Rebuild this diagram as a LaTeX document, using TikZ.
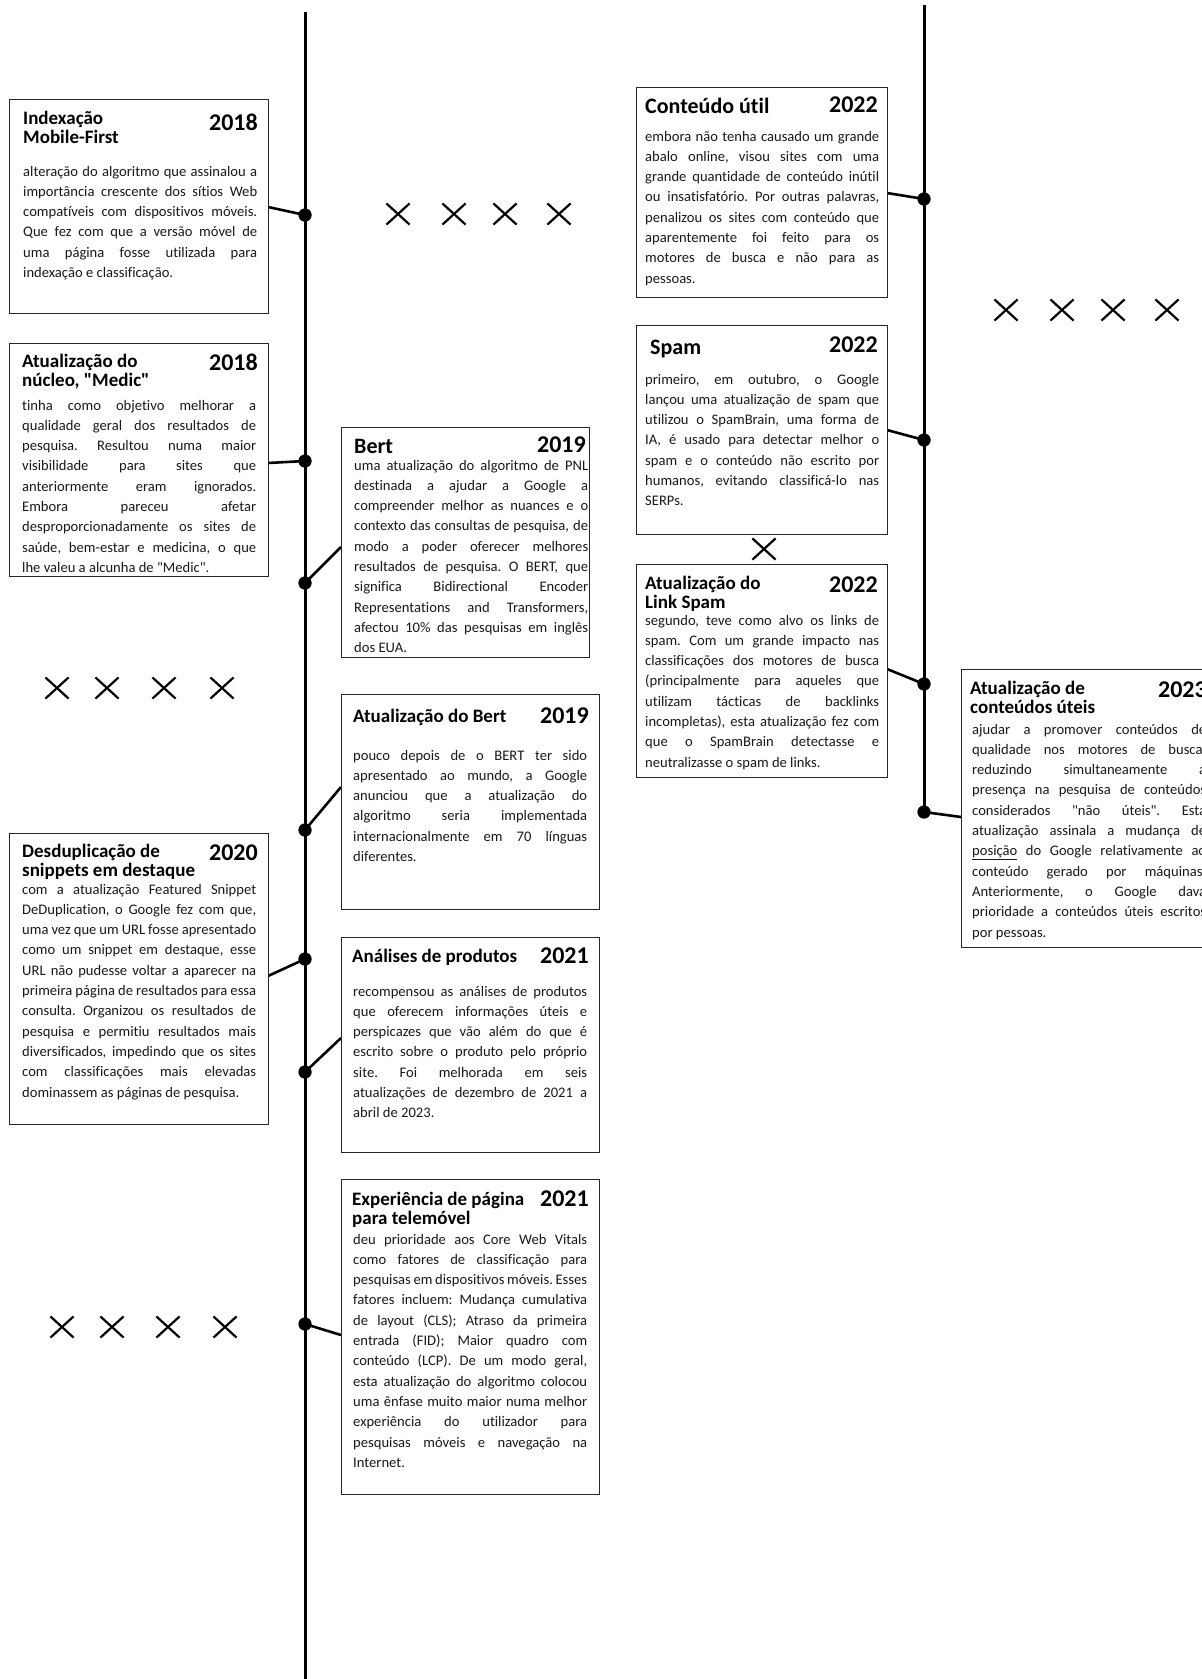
\documentclass[tikz,border=0pt]{standalone}
\usepackage{fontspec}
\setmainfont{Carlito}[Ligatures={TeXOff,NoCommon}]
\usetikzlibrary{shapes.misc}
\frenchspacing
\newcommand\jl[1]{\hbox to 234pt{#1}}
\newcommand\lastl[1]{\hbox{#1}}
\tikzset{
 evbox/.style={draw=black!85, line width=1.1pt, fill=white, inner sep=0pt, anchor=north west},
 ttl/.style={font=\bfseries\fontsize{19}{19.5}\selectfont, inner sep=0pt, anchor=base west},
 bigttl/.style={font=\bfseries\fontsize{22}{24}\selectfont, inner sep=0pt, anchor=base west},
 yr/.style={font=\bfseries\fontsize{24}{26}\selectfont, inner sep=0pt, anchor=base east},
 body/.style={font=\fontsize{14.6}{20.3}\selectfont\frenchspacing, inner sep=0pt, anchor=base west, text=black!90},
 dot/.style={circle, fill=black, inner sep=0pt, minimum size=13pt},
 tline/.style={line width=3pt},
 conn/.style={line width=2.6pt},
 xmark/.style={cross out, draw=black, line width=2.2pt, minimum width=21pt, minimum height=19pt, inner sep=0pt},
}
\begin{document}
\begin{tikzpicture}[x=1pt,y=-1pt]
\useasboundingbox (0,0) rectangle (1202,1679);
% timelines
\coordinate (Ltop) at (305,12);
\coordinate (Lbot) at (305,1679);
\coordinate (Rtop) at (924,5);
\draw[tline] (Ltop) -- (Lbot);
% dots
\node[dot] (dA) at (305,215) {};
\node[dot] (dB) at (305,461) {};
\node[dot] (dC) at (305,583) {};
\node[dot] (dD) at (305,830) {};
\node[dot] (dE) at (305,959) {};
\node[dot] (dF) at (305,1072) {};
\node[dot] (dG) at (305,1324) {};
\node[dot] (dH) at (924,199) {};
\node[dot] (dI) at (924,440) {};
\node[dot] (dJ) at (924,684) {};
\node[dot] (dK) at (924,812) {};
\draw[tline] (Rtop) -- (dK.center);
% attachment points
\coordinate (aA) at (268,207);
\coordinate (aB) at (268,463);
\coordinate (aC) at (341,547);
\coordinate (aD) at (341,787);
\coordinate (aE) at (268,976);
\coordinate (aF) at (341,1038);
\coordinate (aG) at (341,1335);
\coordinate (aH) at (887,193);
\coordinate (aI) at (887,430);
\coordinate (aJ) at (887,669);
\coordinate (aK) at (961,817);
\foreach \p in {A,B,C,D,E,F,G,H,I,J,K} {\draw[conn] (a\p) -- (d\p.center);}
% boxes
\node[evbox, minimum width=259pt, minimum height=214pt] (bA) at (9,99) {};
\node[evbox, minimum width=259pt, minimum height=233pt] (bB) at (9,343) {};
\node[evbox, minimum width=248pt, minimum height=230pt] (bC) at (341,427) {};
\node[evbox, minimum width=258pt, minimum height=215pt] (bD) at (341,694) {};
\node[evbox, minimum width=259pt, minimum height=291pt] (bE) at (9,833) {};
\node[evbox, minimum width=258pt, minimum height=215pt] (bF) at (341,937) {};
\node[evbox, minimum width=258pt, minimum height=315pt] (bG) at (341,1179) {};
\node[evbox, minimum width=251pt, minimum height=210pt] (bH) at (636,87) {};
\node[evbox, minimum width=251pt, minimum height=209pt] (bI) at (636,325) {};
\node[evbox, minimum width=251pt, minimum height=213pt] (bJ) at (636,564) {};
\node[evbox, minimum width=251pt, minimum height=278pt] (bK) at (961,669) {};
% dots on top
\foreach \p in {A,B,C,D,E,F,G,H,I,J,K} {\fill (d\p) circle (6.5pt);}
% Box A
\node[ttl] (tA) at (23,124) {\vtop{\hbox{Indexação}\hbox{Mobile-First}}};
\node[yr] (yA) at (258,130) {2018};
\node[body] (xA) at (23,176) {\vtop{%
\jl{alteração do algoritmo que assinalou a}
\jl{importância crescente dos sítios Web}
\jl{compatíveis com dispositivos móveis.}
\jl{Que fez com que a versão móvel de}
\jl{uma página fosse utilizada para}
\lastl{indexação e classificação.}}};
% Box B
\node[ttl] (tB) at (22,367) {\vtop{\hbox{Atualização do}\hbox{núcleo, "Medic"}}};
\node[yr] (yB) at (258,370) {2018};
\node[body] (xB) at (22,410) {\vtop{%
\jl{tinha como objetivo melhorar a}
\jl{qualidade geral dos resultados de}
\jl{pesquisa. Resultou numa maior}
\jl{visibilidade para sites que}
\jl{anteriormente eram ignorados.}
\jl{Embora pareceu afetar}
\jl{desproporcionadamente os sites de}
\jl{saúde, bem-estar e medicina, o que}
\lastl{lhe valeu a alcunha de "Medic".}}};
% Box C
\node[bigttl] (tC) at (354,453) {Bert};
\node[yr] (yC) at (586,452) {2019};
\node[body] (xC) at (354,470) {\vtop{%
\jl{uma atualização do algoritmo de PNL}
\jl{destinada a ajudar a Google a}
\jl{compreender melhor as nuances e o}
\jl{contexto das consultas de pesquisa, de}
\jl{modo a poder oferecer melhores}
\jl{resultados de pesquisa. O BERT, que}
\jl{significa Bidirectional Encoder}
\jl{Representations and Transformers,}
\jl{afectou 10\% das pesquisas em inglês}
\lastl{dos EUA.}}};
% Box D
\node[ttl] (tD) at (353,722) {Atualização do Bert};
\node[yr] (yD) at (589,723) {2019};
\node[body] (xD) at (353,760) {\vtop{%
\jl{pouco depois de o BERT ter sido}
\jl{apresentado ao mundo, a Google}
\jl{anunciou que a atualização do}
\jl{algoritmo seria implementada}
\jl{internacionalmente em 70 línguas}
\lastl{diferentes.}}};
% Box E
\node[ttl] (tE) at (22,857) {\vtop{\hbox{Desduplicação de}\hbox{snippets em destaque}}};
\node[yr] (yE) at (258,860) {2020};
\node[body] (xE) at (22,894) {\vtop{%
\jl{com a atualização Featured Snippet}
\jl{DeDuplication, o Google fez com que,}
\jl{uma vez que um URL fosse apresentado}
\jl{como um snippet em destaque, esse}
\jl{URL não pudesse voltar a aparecer na}
\jl{primeira página de resultados para essa}
\jl{consulta. Organizou os resultados de}
\jl{pesquisa e permitiu resultados mais}
\jl{diversificados, impedindo que os sites}
\jl{com classificações mais elevadas}
\lastl{dominassem as páginas de pesquisa.}}};
% Box F
\node[ttl] (tF) at (352,962) {Análises de produtos};
\node[yr] (yF) at (589,963) {2021};
\node[body] (xF) at (353,996) {\vtop{%
\jl{recompensou as análises de produtos}
\jl{que oferecem informações úteis e}
\jl{perspicazes que vão além do que é}
\jl{escrito sobre o produto pelo próprio}
\jl{site. Foi melhorada em seis}
\jl{atualizações de dezembro de 2021 a}
\lastl{abril de 2023.}}};
% Box G
\node[ttl] (tG) at (352,1205) {\vtop{\hbox{Experiência de página}\hbox{para telemóvel}}};
\node[yr] (yG) at (589,1206) {2021};
\node[body] (xG) at (353,1244) {\vtop{%
\jl{deu prioridade aos Core Web Vitals}
\jl{como fatores de classificação para}
\jl{pesquisas em dispositivos móveis. Esses}
\jl{fatores incluem: Mudança cumulativa}
\jl{de layout (CLS); Atraso da primeira}
\jl{entrada (FID); Maior quadro com}
\jl{conteúdo (LCP). De um modo geral,}
\jl{esta atualização do algoritmo colocou}
\jl{uma ênfase muito maior numa melhor}
\jl{experiência do utilizador para}
\jl{pesquisas móveis e navegação na}
\lastl{Internet.}}};
% Box H
\node[bigttl] (tH) at (645,113) {Conteúdo útil};
\node[yr] (yH) at (878,112) {2022};
\node[body] (xH) at (645,141) {\vtop{%
\jl{embora não tenha causado um grande}
\jl{abalo online, visou sites com uma}
\jl{grande quantidade de conteúdo inútil}
\jl{ou insatisfatório. Por outras palavras,}
\jl{penalizou os sites com conteúdo que}
\jl{aparentemente foi feito para os}
\jl{motores de busca e não para as}
\lastl{pessoas.}}};
% Box I
\node[bigttl] (tI) at (650,354) {Spam};
\node[yr] (yI) at (878,352) {2022};
\node[body] (xI) at (645,384) {\vtop{%
\jl{primeiro, em outubro, o Google}
\jl{lançou uma atualização de spam que}
\jl{utilizou o SpamBrain, uma forma de}
\jl{IA, é usado para detectar melhor o}
\jl{spam e o conteúdo não escrito por}
\jl{humanos, evitando classificá-lo nas}
\lastl{SERPs.}}};
% Box J
\node[ttl] (tJ) at (645,589) {\vtop{\hbox{Atualização do}\hbox{Link Spam}}};
\node[yr] (yJ) at (878,592) {2022};
\node[body] (xJ) at (645,625) {\vtop{%
\jl{segundo, teve como alvo os links de}
\jl{spam. Com um grande impacto nas}
\jl{classificações dos motores de busca}
\jl{(principalmente para aqueles que}
\jl{utilizam tácticas de backlinks}
\jl{incompletas), esta atualização fez com}
\jl{que o SpamBrain detectasse e}
\lastl{neutralizasse o spam de links.}}};
% Box K
\node[ttl] (tK) at (970,694) {\vtop{\hbox{Atualização de}\hbox{conteúdos úteis}}};
\node[yr] (yK) at (1207,697) {2023};
\node[body] (xK) at (972,734) {\vtop{%
\jl{ajudar a promover conteúdos de}
\jl{qualidade nos motores de busca,}
\jl{reduzindo simultaneamente a}
\jl{presença na pesquisa de conteúdos}
\jl{considerados "não úteis". Esta}
\jl{atualização assinala a mudança de}
\jl{\underline{posição} do Google relativamente ao}
\jl{conteúdo gerado por máquinas.}
\jl{Anteriormente, o Google dava}
\jl{prioridade a conteúdos úteis escritos}
\lastl{por pessoas.}}};
% crosses
\node[xmark] (x1) at (398,214) {};
\node[xmark] (x2) at (454,214) {};
\node[xmark] (x3) at (505,214) {};
\node[xmark] (x4) at (559,214) {};
\node[xmark] (x5) at (1006,310) {};
\node[xmark] (x6) at (1062,310) {};
\node[xmark] (x7) at (1113,310) {};
\node[xmark] (x8) at (1167,310) {};
\node[xmark] (x9) at (57,688) {};
\node[xmark] (x10) at (107,688) {};
\node[xmark] (x11) at (164,688) {};
\node[xmark] (x12) at (222,688) {};
\node[xmark] (x13) at (62,1327) {};
\node[xmark] (x14) at (112,1327) {};
\node[xmark] (x15) at (168,1327) {};
\node[xmark] (x16) at (225,1327) {};
\node[xmark] (x17) at (764,549) {};
\end{tikzpicture}
\end{document}
